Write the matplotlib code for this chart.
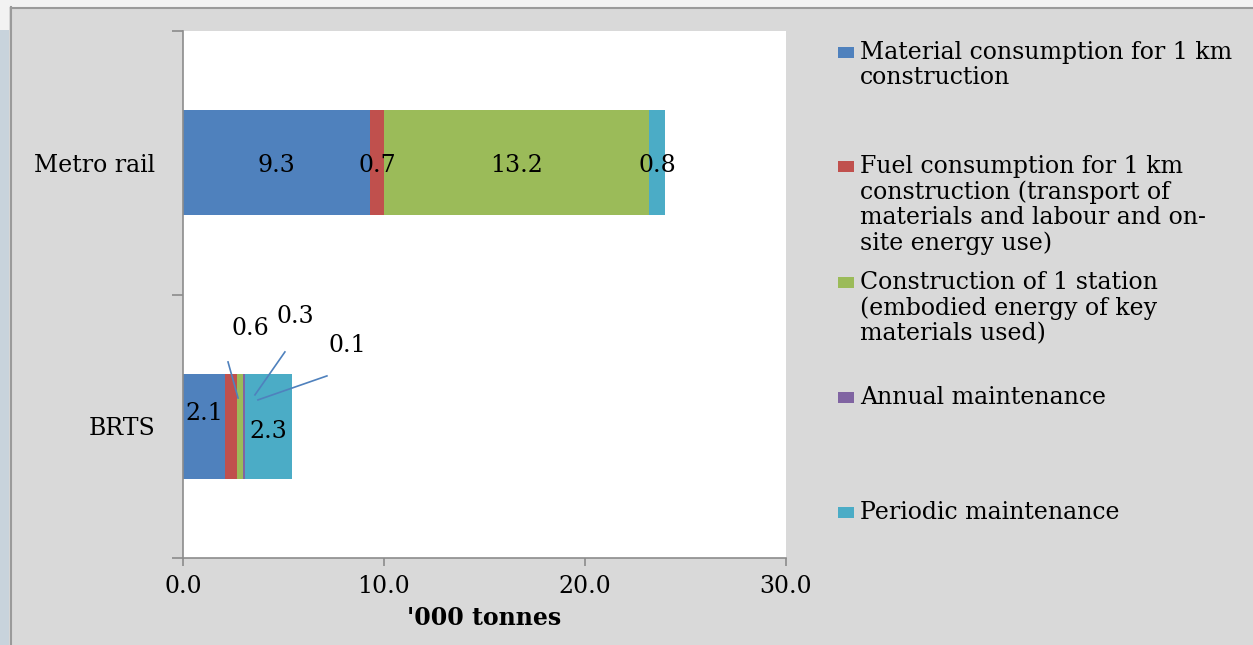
import numpy as np
import matplotlib.pyplot as plt
from matplotlib.patches import Rectangle
from matplotlib.lines import Line2D

plt.rcParams['font.family'] = ['DejaVu Serif', 'Liberation Serif']

# data
categories = ["BRTS", "Metro rail"]
series = [
    "Material consumption for 1 km\nconstruction",
    "Fuel consumption for 1 km\nconstruction (transport of\nmaterials and labour and on-\nsite energy use)",
    "Construction of 1 station\n(embodied energy of key\nmaterials used)",
    "Annual maintenance",
    "Periodic maintenance",
]
brts = [2.1, 0.6, 0.3, 0.1, 2.3]
metro = [9.3, 0.7, 13.2, 0.0, 0.8]
colors = ["#4f81bd", "#c0504d", "#9bbb59", "#8064a2", "#4bacc6"]
xticks = [0, 10, 20, 30]

FS = 17
W, H = 1253, 645
fig = plt.figure(figsize=(W / 100, H / 100), dpi=100)
fig.patch.set_facecolor("#d9d9d9")

# outer frame bits
fig.add_artist(Rectangle((0, 1 - 7 / H), 1, 7 / H, transform=fig.transFigure,
                         facecolor="#f2f2f2", edgecolor="none"))
fig.add_artist(Rectangle((0, 0), 9 / W, 1 - 30 / H, transform=fig.transFigure,
                         facecolor="#c8d3dc", edgecolor="none"))
fig.add_artist(Rectangle((0, 1 - 30 / H), 9 / W, 30 / H, transform=fig.transFigure,
                         facecolor="#f2f2f2", edgecolor="none"))
fig.add_artist(Line2D([10.5 / W, 10.5 / W], [0, 1 - 7 / H], transform=fig.transFigure,
                      color="#9a9a9a", lw=1.5))
fig.add_artist(Line2D([10.5 / W, 1], [1 - 7.5 / H, 1 - 7.5 / H], transform=fig.transFigure,
                      color="#9a9a9a", lw=1.5))

ax = fig.add_axes([183 / W, 1 - 558 / H, (786 - 183) / W, (558 - 31) / H])
ax.set_facecolor("white")

y = np.arange(len(categories))
vals = np.array([brts, metro])
left = np.zeros(len(categories))
for i in range(len(series)):
    ax.barh(y, vals[:, i], left=left, height=0.4, color=colors[i], label=series[i])
    left += vals[:, i]

ax.set_xlim(0, 30)
ax.set_ylim(-0.5, 1.5)

# Metro rail labels centred in segments (skip zero segment)
lft = 0
for i, v in enumerate(metro):
    if v > 0:
        ax.text(lft + v / 2, 1, f"{v:.1f}", ha="center", va="center_baseline", fontsize=FS)
    lft += v

# BRTS labels
cum = np.cumsum([0] + brts)
ax.text(cum[0] + brts[0] / 2, 0.05, f"{brts[0]:.1f}", ha="center", va="center", fontsize=FS)
ax.text(cum[4] + brts[4] / 2, -0.02, f"{brts[4]:.1f}", ha="center", va="center", fontsize=FS)
# leader-line labels: (series, text x, text y, line start, line end)
callouts = [(1, 3.33, 0.37, 2.24, 0.244, 2.74, 0.107),
            (2, 5.57, 0.415, 5.07, 0.282, 3.58, 0.119),
            (3, 8.16, 0.305, 7.16, 0.191, 3.73, 0.100)]
for i, tx, ty, x0, y0, x1, y1 in callouts:
    ax.text(tx, ty, f"{brts[i]:.1f}", ha="center", va="center", fontsize=FS)
    ax.plot([x0, x1], [y0, y1], color="#4f81bd", lw=1.2)

# axes styling
for s in ["top", "right"]:
    ax.spines[s].set_visible(False)
for s in ["left", "bottom"]:
    ax.spines[s].set_color("#8c8c8c")
    ax.spines[s].set_linewidth(1.2)
ax.set_xticks(xticks)
ax.set_xticklabels([f"{t:.1f}" for t in xticks], fontsize=FS)
ax.tick_params(axis="x", length=6, color="#8c8c8c", width=1.2, pad=6)
ax.set_yticks([-0.5, 0.5, 1.5])
ax.set_yticklabels([])
ax.tick_params(axis="y", which="major", length=8, color="#8c8c8c", width=1.2)
ax.set_yticks(y, minor=True)
ax.set_yticklabels(categories, minor=True, fontsize=FS)
ax.tick_params(axis="y", which="minor", length=0, pad=20)
ax.set_xlabel("'000 tonnes", fontsize=FS, fontweight="bold", labelpad=6)

# legend drawn by hand to follow the original spacing
leg_y = [52, 166, 282, 397, 512]
for i, name in enumerate(series):
    yy = leg_y[i]
    fig.add_artist(Rectangle((838 / W, 1 - (yy + 6) / H), 16 / W, 11 / H,
                             transform=fig.transFigure, facecolor=colors[i], edgecolor="none"))
    fig.text(860 / W, 1 - (yy - 11) / H, name, ha="left", va="top", fontsize=FS,
             linespacing=1.12)

fig.savefig("out.png", dpi=100, facecolor=fig.get_facecolor())
